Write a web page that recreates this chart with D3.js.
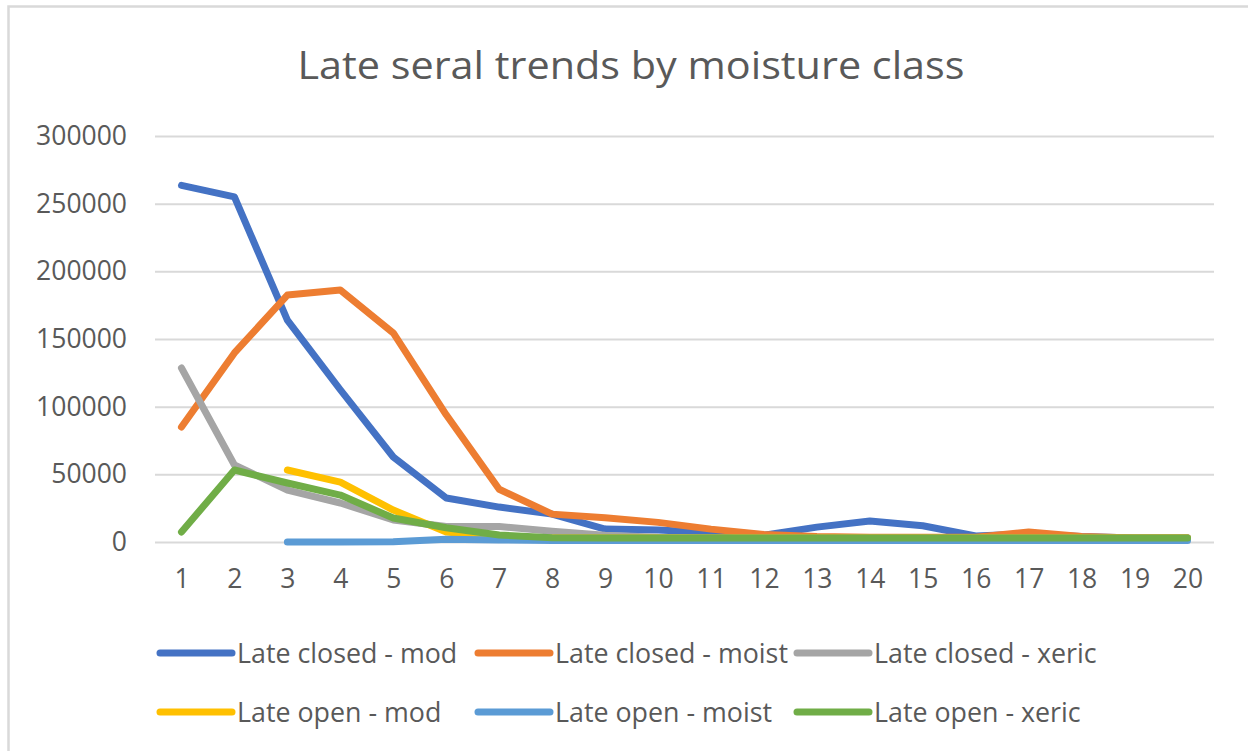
<!DOCTYPE html>
<html lang="en">
<head>
<meta charset="utf-8" />
<title>Late seral trends</title>
<script src="https://d3js.org/d3.v7.min.js"></script>
<style>
  body { margin: 0; background: #ffffff; }
  text { font-family: "Open Sans", "Noto Sans", sans-serif; fill: #595959; }
</style>
</head>
<body>
<div id="chart"></div>
<script>
// data
var steps = d3.range(1, 21);
var seriesNames = ["Late closed - mod", "Late closed - moist", "Late closed - xeric",
                   "Late open - mod", "Late open - moist", "Late open - xeric"];
var seriesColors = ["#4472C4", "#ED7D31", "#A5A5A5", "#FFC000", "#5B9BD5", "#70AD47"];

var closedMod   = [263500, 255000, 164000, 112500, 62800, 32500, 25800, 20600, 9600, 8800,
                   7000, 5000, 11000, 15500, 12000, 4400, 6000, 4000, 3000, 3000];
var closedMoist = [85000, 139700, 182500, 186200, 154500, 94000, 39000, 20600, 18000, 14500,
                   9500, 5500, 4000, 3500, 3500, 3500, 7400, 4000, 3000, 3000];
var closedXeric = [128600, 56900, 38400, 28800, 16300, 11500, 11500, 8000, 5000, 3500,
                   3000, 3000, 3000, 3000, 3000, 3000, 3000, 3000, 3000, 3000];
var openMod     = [null, null, 53200, 44300, 23600, 7400, 3700, 3000, 3000, 3000,
                   3000, 3000, 3000, 3000, 3000, 3000, 3000, 3000, 3000, 3000];
var openMoist   = [null, null, 0, 0, 200, 2000, 1500, 1200, 1200, 1200,
                   1200, 1200, 1200, 1200, 1200, 1200, 1200, 1200, 1200, 1200];
var openXeric   = [7400, 53200, 43600, 34700, 17700, 10500, 5200, 3200, 3000, 3000,
                   3000, 3000, 3000, 3000, 3000, 3000, 3000, 3000, 3000, 3000];
var allSeries = [closedMod, closedMoist, closedXeric, openMod, openMoist, openXeric];
var yTicks = [0, 50000, 100000, 150000, 200000, 250000, 300000];

var width = 1248, height = 751;

var svg = d3.select("#chart").append("svg")
    .attr("width", width)
    .attr("height", height);

// chart border (only the top and left edges show in the window)
svg.append("rect")
    .attr("x", 8.5).attr("y", 6.5)
    .attr("width", 1300).attr("height", 800)
    .attr("fill", "#ffffff")
    .attr("stroke", "#D9D9D9")
    .attr("stroke-width", 2.5);

// title
svg.append("text")
    .attr("x", 631).attr("y", 79)
    .attr("text-anchor", "middle")
    .attr("font-size", 39)
    .attr("textLength", 667)
    .attr("lengthAdjust", "spacingAndGlyphs")
    .text("Late seral trends by moisture class");

// scales
var xScale = d3.scalePoint()
    .domain(steps)
    .range([155, 1214])
    .padding(0.5);

var yScale = d3.scaleLinear()
    .domain([0, 300000])
    .range([542, 136]);

// gridlines + y labels
var yAxis = d3.axisLeft(yScale)
    .tickValues(yTicks)
    .tickSize(-(1214 - 155))
    .tickPadding(28)
    .tickFormat(d3.format("d"));

var gy = svg.append("g")
    .attr("transform", "translate(155,0)")
    .call(yAxis);
gy.select(".domain").remove();
gy.selectAll(".tick line").attr("stroke", "#D9D9D9").attr("stroke-width", 2);
gy.selectAll(".tick text")
    .attr("font-size", 26.5)
    .attr("fill", "#595959")
    .style("font-family", "'Open Sans', sans-serif");

// x labels
var xAxis = d3.axisBottom(xScale).tickSize(0).tickPadding(27);
var gx = svg.append("g")
    .attr("transform", "translate(0,542)")
    .call(xAxis);
gx.select(".domain").remove();
gx.selectAll(".tick text")
    .attr("font-size", 26.5)
    .attr("fill", "#595959")
    .style("font-family", "'Open Sans', sans-serif");

// lines
var line = d3.line()
    .defined(function(d) { return d != null; })
    .x(function(d, i) { return xScale(steps[i]); })
    .y(function(d) { return yScale(d); });

allSeries.forEach(function(values, s) {
    svg.append("path")
        .datum(values)
        .attr("fill", "none")
        .attr("stroke", seriesColors[s])
        .attr("stroke-width", 7)
        .attr("stroke-linecap", "round")
        .attr("stroke-linejoin", "round")
        .attr("d", line);
});

// legend, two rows of three
var legendX = [160, 478, 797];
var legendY = [653, 712];
seriesNames.forEach(function(name, i) {
    var lx = legendX[i % 3];
    var ly = legendY[Math.floor(i / 3)];
    var g = svg.append("g").attr("transform", "translate(" + lx + "," + ly + ")");
    g.append("line")
        .attr("x1", 0).attr("x2", 72)
        .attr("y1", 0).attr("y2", 0)
        .attr("stroke", seriesColors[i])
        .attr("stroke-width", 7)
        .attr("stroke-linecap", "round");
    g.append("text")
        .attr("x", 77).attr("y", 9.5)
        .attr("font-size", 26.8)
        .text(name);
});
</script>
</body>
</html>
